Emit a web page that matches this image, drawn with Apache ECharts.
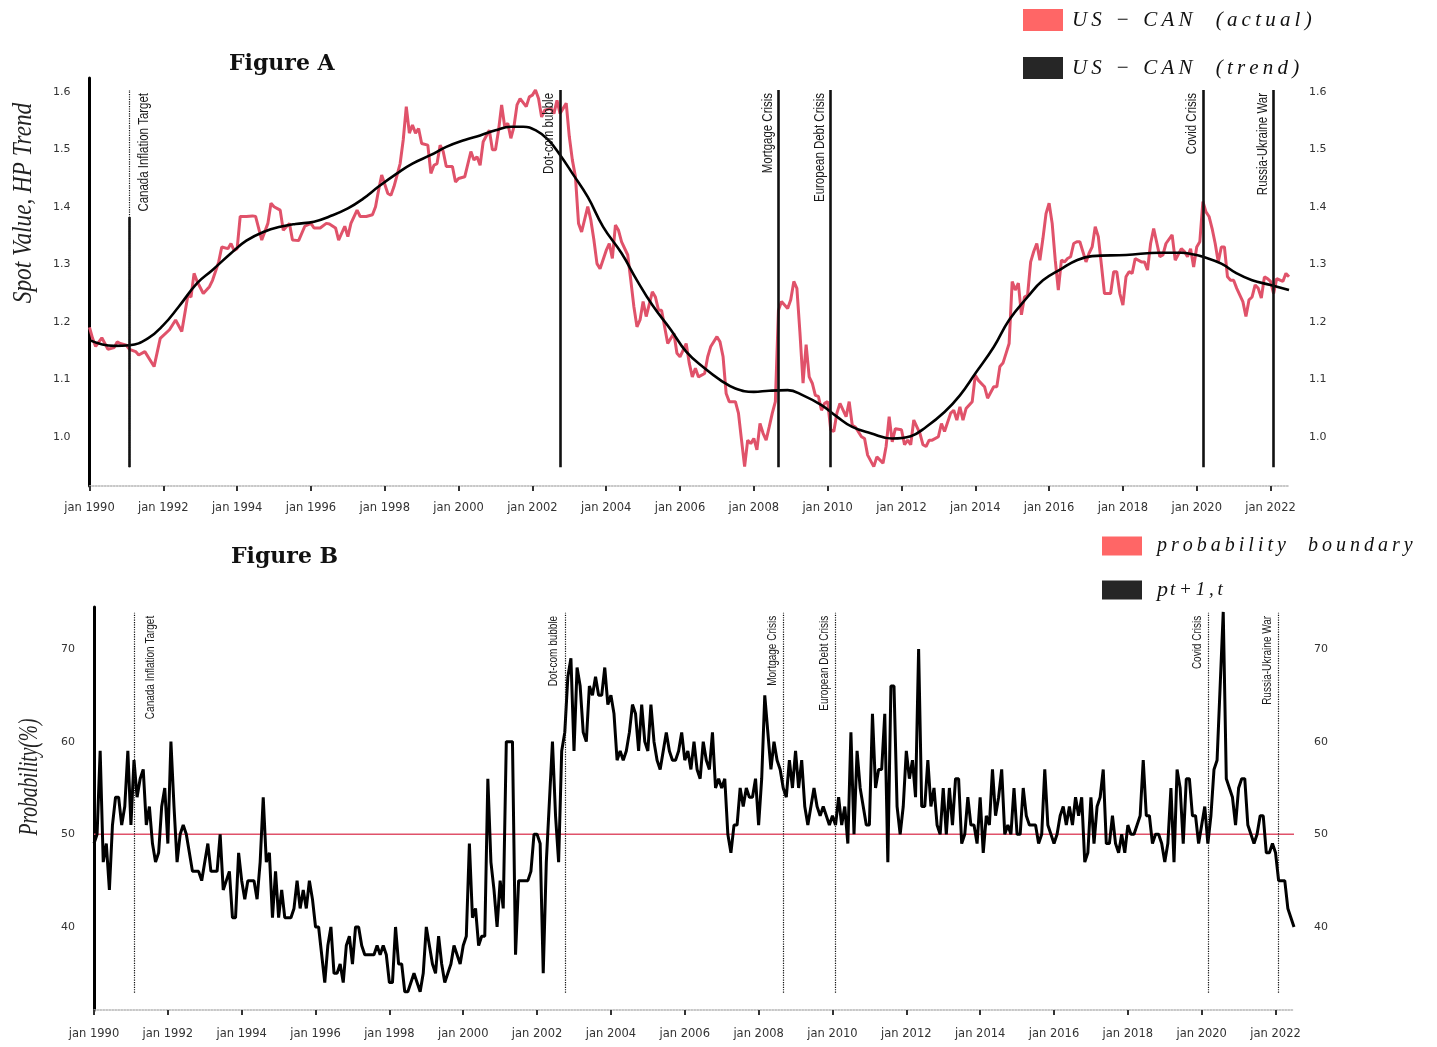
<!DOCTYPE html>
<html>
<head>
<meta charset="utf-8">
<title>US-CAN spot value and transition probability</title>
<script src="https://cdn.jsdelivr.net/npm/echarts@6/dist/echarts.min.js"></script>
<style>
  html, body { margin: 0; padding: 0; background: #ffffff; }
  #chart { width: 1437px; height: 1047px; }
</style>
</head>
<body>
<div id="chart"></div>
<script>
// All series are monthly; each point is [months since jan 1990, value].

// Figure A: US-CAN spot value
const spotActual = [
  [0,1.190],[1,1.171],[2,1.157],[4,1.172],[6,1.152],[8,1.155],[9,1.165],[10,1.162],[12,1.159],[13,1.152],
  [15,1.148],[16,1.142],[18,1.148],[21,1.122],[23,1.171],[26,1.186],[28,1.203],[30,1.183],[32,1.246],[33,1.243],
  [34,1.284],[35,1.270],[37,1.249],[39,1.261],[40,1.272],[42,1.304],[43,1.330],[45,1.327],[46,1.336],[47,1.324],
  [48,1.327],[49,1.383],[51,1.383],[53,1.384],[54,1.383],[56,1.342],[58,1.371],[59,1.406],[60,1.400],[62,1.394],
  [63,1.359],[65,1.371],[66,1.342],[68,1.341],[70,1.366],[72,1.371],[73,1.363],[75,1.363],[77,1.371],[78,1.370],
  [80,1.363],[81,1.342],[83,1.366],[84,1.348],[85,1.371],[87,1.394],[88,1.383],[90,1.383],[92,1.386],[93,1.400],
  [94,1.429],[95,1.455],[97,1.423],[98,1.420],[99,1.435],[101,1.475],[102,1.516],[103,1.574],[104,1.528],[105,1.542],
  [106,1.528],[107,1.536],[108,1.510],[110,1.507],[111,1.458],[112,1.472],[113,1.475],[114,1.507],[115,1.496],[116,1.470],
  [118,1.470],[119,1.443],[120,1.449],[122,1.452],[124,1.496],[125,1.481],[126,1.487],[127,1.472],[128,1.513],[130,1.533],
  [131,1.499],[132,1.499],[133,1.533],[134,1.577],[135,1.539],[136,1.545],[137,1.519],[138,1.539],[139,1.577],[140,1.588],
  [142,1.574],[143,1.591],[144,1.594],[145,1.603],[146,1.588],[147,1.556],[148,1.568],[150,1.571],[151,1.562],[152,1.585],
  [153,1.562],[154,1.571],[155,1.580],[156,1.522],[157,1.481],[158,1.452],[159,1.371],[160,1.356],[162,1.400],[163,1.377],
  [164,1.342],[165,1.301],[166,1.292],[168,1.324],[169,1.336],[170,1.310],[171,1.368],[172,1.359],[173,1.339],[175,1.316],
  [176,1.272],[177,1.226],[178,1.191],[179,1.203],[180,1.235],[181,1.209],[183,1.252],[184,1.243],[185,1.220],[186,1.220],
  [188,1.162],[189,1.171],[190,1.180],[191,1.145],[192,1.139],[194,1.162],[195,1.128],[196,1.104],[197,1.119],[198,1.104],
  [200,1.110],[201,1.139],[202,1.157],[204,1.174],[205,1.165],[206,1.139],[207,1.075],[208,1.061],[210,1.061],[211,1.041],
  [212,0.994],[213,0.948],[214,0.994],[215,0.988],[216,0.997],[217,0.977],[218,1.023],[219,1.006],[220,0.994],[221,1.017],
  [222,1.041],[223,1.061],[224,1.220],[225,1.235],[227,1.223],[228,1.238],[229,1.270],[230,1.258],[231,1.180],[232,1.093],
  [233,1.160],[234,1.104],[235,1.093],[236,1.072],[237,1.070],[238,1.046],[239,1.058],[240,1.061],[241,1.012],[242,1.009],
  [243,1.041],[244,1.058],[246,1.035],[247,1.061],[248,1.020],[249,1.017],[251,1.000],[252,0.997],[253,0.968],[255,0.948],
  [256,0.965],[258,0.954],[259,0.983],[260,1.035],[261,0.991],[262,1.014],[264,1.012],[265,0.986],[266,0.994],[267,0.986],
  [268,1.029],[270,1.006],[271,0.986],[272,0.983],[273,0.994],[274,0.994],[276,1.000],[277,1.023],[278,1.009],[280,1.041],
  [281,1.046],[282,1.029],[283,1.052],[284,1.029],[285,1.049],[287,1.061],[288,1.107],[289,1.098],[291,1.087],[292,1.067],
  [294,1.087],[295,1.087],[296,1.122],[297,1.128],[298,1.145],[299,1.162],[300,1.270],[301,1.255],[302,1.267],[303,1.212],
  [304,1.243],[305,1.246],[306,1.304],[307,1.322],[308,1.336],[309,1.307],[310,1.345],[311,1.388],[312,1.406],[313,1.371],
  [314,1.307],[315,1.255],[316,1.307],[317,1.304],[318,1.310],[319,1.313],[320,1.336],[321,1.339],[322,1.339],[324,1.304],
  [325,1.319],[326,1.330],[327,1.365],[328,1.348],[329,1.299],[330,1.249],[332,1.249],[333,1.287],[334,1.287],[335,1.249],
  [336,1.229],[337,1.278],[338,1.287],[339,1.284],[340,1.310],[342,1.304],[343,1.304],[344,1.290],[345,1.336],[346,1.362],
  [348,1.313],[349,1.316],[350,1.336],[352,1.351],[353,1.307],[355,1.327],[356,1.322],[357,1.313],[358,1.327],[359,1.295],
  [360,1.330],[361,1.339],[362,1.409],[363,1.391],[364,1.383],[365,1.362],[366,1.336],[367,1.304],[368,1.330],[369,1.330],
  [370,1.278],[371,1.272],[372,1.272],[373,1.258],[375,1.235],[376,1.209],[377,1.238],[378,1.243],[379,1.264],[380,1.258],
  [381,1.241],[382,1.278],[383,1.275],[384,1.270],[385,1.249],[386,1.275],[388,1.270],[389,1.284],[390,1.278]
];

// Hodrick-Prescott trend of the spot value
const spotTrend = [
  [0,1.168],[8,1.158],[13,1.159],[19,1.171],[24,1.194],[29,1.226],[35,1.267],[40,1.290],[46,1.319],[51,1.341],
  [57,1.357],[62,1.365],[67,1.370],[73,1.374],[78,1.383],[84,1.397],[89,1.414],[94,1.435],[100,1.458],[105,1.475],
  [111,1.490],[116,1.504],[122,1.516],[127,1.524],[132,1.533],[137,1.539],[141,1.539],[145,1.533],[149,1.517],[153,1.490],
  [157,1.458],[162,1.417],[167,1.365],[173,1.319],[178,1.272],[183,1.229],[189,1.186],[194,1.148],[200,1.119],[205,1.099],
  [210,1.084],[216,1.078],[221,1.080],[227,1.081],[232,1.072],[238,1.055],[243,1.035],[248,1.017],[254,1.006],[261,0.997],
  [267,1.001],[272,1.017],[278,1.043],[283,1.072],[288,1.110],[294,1.156],[299,1.203],[305,1.243],[310,1.272],[316,1.292],
  [321,1.307],[326,1.314],[337,1.316],[348,1.320],[355,1.320],[359,1.317],[362,1.313],[368,1.301],[373,1.284],[378,1.272],
  [384,1.264],[390,1.255]
];

// Figure B: probability p(t+1,t), in percent
const probNext = [
  [0,49],[1,50],[2,59],[3,47],[4,49],[5,44],[6,51],[7,54],[8,54],[9,51],[10,53],[11,59],[12,51],[13,58],[14,54],
  [15,56],[16,57],[17,51],[18,53],[19,49],[20,47],[21,48],[22,53],[23,55],[24,49],[25,60],[26,53],[27,47],[28,50],
  [29,51],[30,50],[31,48],[32,46],[34,46],[35,45],[36,47],[37,49],[38,46],[40,46],[41,50],[42,44],[43,45],[44,46],
  [45,41],[46,41],[47,48],[48,45],[49,43],[50,45],[51,45],[52,45],[53,43],[54,47],[55,54],[56,47],[57,48],[58,41],
  [59,46],[60,41],[61,44],[62,41],[64,41],[65,42],[66,45],[67,42],[68,44],[69,42],[70,45],[71,43],[72,40],[73,40],
  [74,37],[75,34],[76,38],[77,40],[78,35],[79,35],[80,36],[81,34],[82,38],[83,39],[84,36],[85,40],[86,40],[87,38],
  [88,37],[91,37],[92,38],[93,37],[94,38],[95,37],[96,34],[97,34],[98,40],[99,36],[100,36],[101,33],[102,33],[104,35],
  [106,33],[107,35],[108,40],[110,36],[111,35],[112,39],[113,36],[114,34],[115,35],[116,36],[117,38],[118,37],[119,36],
  [120,38],[121,39],[122,49],[123,41],[124,42],[125,38],[126,39],[127,39],[128,56],[129,47],[130,44],[131,40],[132,45],
  [133,42],[134,60],[136,60],[137,37],[138,45],[141,45],[142,46],[143,50],[144,50],[145,49],[146,35],[147,47],[149,60],
  [150,52],[151,47],[152,59],[153,61],[154,67],[155,69],[156,59],[157,68],[158,66],[159,61],[160,60],[161,66],[162,65],
  [163,67],[164,65],[165,65],[166,68],[167,64],[168,65],[169,63],[170,58],[171,59],[172,58],[173,59],[174,61],[175,64],
  [176,63],[177,59],[178,64],[179,60],[180,59],[181,64],[182,60],[183,58],[184,57],[185,59],[186,61],[187,59],[188,58],
  [189,58],[190,59],[191,61],[192,58],[193,59],[194,57],[195,60],[196,57],[197,56],[198,60],[199,58],[200,57],[201,61],
  [202,55],[203,56],[204,55],[205,56],[206,50],[207,48],[208,51],[209,51],[210,55],[211,53],[212,55],[213,54],[214,54],
  [215,56],[216,51],[217,56],[218,65],[219,61],[220,57],[221,60],[222,58],[223,57],[224,55],[225,54],[226,58],[227,55],
  [228,59],[229,55],[230,58],[231,53],[232,51],[233,53],[234,55],[235,53],[236,52],[237,53],[238,52],[239,51],[240,52],
  [241,51],[242,54],[243,51],[244,53],[245,49],[246,61],[247,50],[248,59],[249,55],[250,53],[251,51],[252,51],[253,63],
  [254,55],[255,57],[256,57],[257,63],[258,47],[259,66],[260,66],[261,53],[262,50],[263,53],[264,59],[265,56],[266,58],
  [267,54],[268,70],[269,53],[270,53],[271,58],[272,53],[273,55],[274,51],[275,50],[276,55],[277,50],[278,55],[279,51],
  [280,56],[281,56],[282,49],[283,50],[284,54],[285,51],[286,51],[287,49],[288,54],[289,48],[290,52],[291,51],[292,57],
  [293,52],[294,54],[295,57],[296,50],[297,51],[298,50],[299,55],[300,50],[301,50],[302,55],[303,52],[304,51],[305,51],
  [306,51],[307,49],[308,50],[309,57],[310,51],[311,50],[312,49],[313,50],[314,52],[315,53],[316,51],[317,53],[318,51],
  [319,54],[320,52],[321,54],[322,47],[323,48],[324,54],[325,49],[326,53],[327,54],[328,57],[329,49],[330,49],[331,52],
  [332,49],[333,48],[334,50],[335,48],[336,51],[337,50],[338,50],[339,51],[340,52],[341,58],[342,52],[343,52],[344,49],
  [345,50],[346,50],[347,49],[348,47],[349,49],[350,55],[351,47],[352,57],[353,55],[354,49],[355,56],[356,56],[357,52],
  [358,52],[359,49],[360,51],[361,53],[362,49],[363,52],[364,57],[365,58],[366,66],[367,74],[368,56],[369,55],[370,54],
  [371,51],[372,55],[373,56],[374,56],[375,51],[376,50],[377,49],[378,50],[379,52],[380,52],[381,48],[382,48],[383,49],
  [384,48],[385,45],[386,45],[387,45],[388,42],[389,41],[390,40]
];

const probBoundary = 50;

// Events marked on both panels: [label, months since jan 1990]
const events = [
  ['Canada Inflation Target', 13],
  ['Dot-com bubble', 153],
  ['Mortgage Crisis', 224],
  ['European Debt Crisis', 241],
  ['Covid Crisis', 362],
  ['Russia-Ukraine War', 385]
];

const spotTicks = [1.0, 1.1, 1.2, 1.3, 1.4, 1.5, 1.6];
const probTicks = [40, 50, 60, 70];

const startYear = 1990;
const lastMonth = 390;

const SERIES_ACTUAL = 'US − CAN  (actual)';
const SERIES_TREND = 'US − CAN  (trend)';
const SERIES_BOUND = 'probability  boundary';
const SERIES_PROB = 'p t+1,t';

const toYear = m => startYear + m / 12;
const asPoints = rows => rows.map(([m, v]) => [toYear(m), v]);
// math-style legend lettering: a thin space between glyphs
const spaced = s => s.split('').join('\u2009');

const RED = '#e0526a';
const LEGEND_RED = '#ff6666';
const LEGEND_BLACK = '#262626';
const TICK_FONT = '"DejaVu Sans", Verdana, sans-serif';
const EVENT_FONT = '"Liberation Sans", Arial, sans-serif';
const SERIF = '"Liberation Serif", "DejaVu Serif", serif';

// vertical extent of the event lines in each panel
const spotEventSpan = [0.947, 1.603];
const probEventSpan = [32.9, 73.9];

const chart = echarts.init(document.getElementById('chart'), null, { renderer: 'canvas' });

function xAxisFor(gridIndex, margin) {
  return {
    type: 'value', gridIndex,
    min: startYear, max: toYear(lastMonth), interval: 2,
    axisLine: { show: true, lineStyle: { color: '#b5b5b5', width: 1.5, type: 'dotted' } },
    axisTick: { show: true, length: 5, lineStyle: { color: '#333', width: 2 } },
    axisLabel: {
      margin, color: '#333', fontSize: 11.5, fontFamily: TICK_FONT,
      showMaxLabel: false,
      formatter: v => (Number.isInteger(v) ? 'jan ' + v : '')
    },
    splitLine: { show: false }
  };
}

function yAxisFor(gridIndex, min, max, ticks, decimals, side) {
  const left = side === 'left';
  return {
    type: 'value', gridIndex, position: side, min, max,
    axisLine: { show: left, onZero: false, lineStyle: { color: '#000', width: 3 } },
    axisTick: { show: false },
    splitLine: { show: false },
    axisLabel: {
      show: true, margin: left ? 19 : 20, color: '#333', fontSize: 11, fontFamily: TICK_FONT,
      customValues: ticks,
      formatter: v => v.toFixed(decimals)
    }
  };
}

function eventLines(span, heavy) {
  const [lo, hi] = span;
  const data = events.map(([name, m], i) => [
    { name, coord: [toYear(m), lo],
      lineStyle: heavy && i > 0 ? { width: 2.6, type: 'solid' } : { width: 1.2, type: 'dotted' } },
    { coord: [toYear(m), hi] }
  ]);
  if (heavy) {
    // the inflation-target line is drawn heavier below its label
    const m0 = events[0][1];
    data.push([
      { coord: [toYear(m0), lo], lineStyle: { width: 2.6, type: 'solid' } },
      { coord: [toYear(m0), 1.382] }
    ]);
  }
  return {
    silent: true, animation: false, symbol: ['none', 'none'],
    lineStyle: { color: '#111' },
    label: { show: false },
    data
  };
}

const option = {
  animation: false,
  backgroundColor: '#ffffff',
  grid: [
    { left: 89.5, right: 148, top: 78, height: 408 },
    { left: 94, right: 143, top: 607, height: 403 }
  ],
  xAxis: [xAxisFor(0, 16), xAxisFor(1, 18)],
  yAxis: [
    yAxisFor(0, 0.9143, 1.6238, spotTicks, 1, 'left'),
    yAxisFor(0, 0.9143, 1.6238, spotTicks, 1, 'right'),
    yAxisFor(1, 31.04, 74.53, probTicks, 0, 'left'),
    yAxisFor(1, 31.04, 74.53, probTicks, 0, 'right')
  ],
  legend: [
    {
      orient: 'vertical', left: 1018, top: 4, itemWidth: 40, itemHeight: 22, itemGap: 26,
      icon: 'rect',
      formatter: name => spaced(name),
      textStyle: { fontFamily: SERIF, fontStyle: 'italic', fontSize: 21, color: '#111', padding: [0, 0, 0, 4] },
      data: [
        { name: SERIES_ACTUAL, itemStyle: { color: LEGEND_RED } },
        { name: SERIES_TREND, itemStyle: { color: LEGEND_BLACK } }
      ]
    },
    {
      orient: 'vertical', left: 1097, top: 531, itemWidth: 40, itemHeight: 19, itemGap: 23,
      icon: 'rect',
      textStyle: {
        fontFamily: SERIF, fontStyle: 'italic', fontSize: 20, color: '#111', padding: [0, 0, 0, 10],
        rich: {
          p: { fontFamily: SERIF, fontStyle: 'italic', fontSize: 22, color: '#111' },
          s: { fontFamily: SERIF, fontStyle: 'italic', fontSize: 19, color: '#111', padding: [0, 0, 0, 2] }
        }
      },
      formatter: name => (name === SERIES_PROB ? '{p|p}{s|' + spaced('t+1,t') + '}' : spaced(name)),
      data: [
        { name: SERIES_BOUND, itemStyle: { color: LEGEND_RED } },
        { name: SERIES_PROB, itemStyle: { color: LEGEND_BLACK } }
      ]
    }
  ],
  graphic: {
    elements: [
      { id: 'titleA', type: 'text', left: 229, top: 53, style: { text: 'Figure A', font: 'bold 22px "DejaVu Serif", serif', fill: '#111' } },
      { id: 'titleB', type: 'text', left: 231, top: 546, style: { text: 'Figure B', font: 'bold 22px "DejaVu Serif", serif', fill: '#111' } },
      { id: 'nameA', type: 'text', x: 24, y: 203, rotation: Math.PI / 2, scaleX: 0.86,
        style: { text: 'Spot Value, HP Trend', font: 'italic 27px ' + SERIF, fill: '#222', align: 'center', verticalAlign: 'middle' } },
      { id: 'nameB', type: 'text', x: 30, y: 777, rotation: Math.PI / 2, scaleX: 0.72,
        style: { text: 'Probability(%)', font: 'italic 27px ' + SERIF, fill: '#222', align: 'center', verticalAlign: 'middle' } }
    ]
  },
  series: [
    {
      name: SERIES_ACTUAL, type: 'line', xAxisIndex: 0, yAxisIndex: 0,
      data: asPoints(spotActual), showSymbol: false, symbol: 'none',
      lineStyle: { color: RED, width: 3 }, itemStyle: { color: RED },
      markLine: eventLines(spotEventSpan, true), z: 2
    },
    {
      name: SERIES_TREND, type: 'line', xAxisIndex: 0, yAxisIndex: 0,
      data: asPoints(spotTrend), showSymbol: false, symbol: 'none', smooth: 0.45,
      lineStyle: { color: '#000', width: 2.6 }, itemStyle: { color: '#000' }, z: 3
    },
    {
      name: SERIES_BOUND, type: 'line', xAxisIndex: 1, yAxisIndex: 2,
      data: [[toYear(0), probBoundary], [toYear(lastMonth), probBoundary]],
      showSymbol: false, symbol: 'none',
      lineStyle: { color: RED, width: 1.6 }, itemStyle: { color: RED }, z: 2
    },
    {
      name: SERIES_PROB, type: 'line', xAxisIndex: 1, yAxisIndex: 2,
      data: asPoints(probNext), showSymbol: false, symbol: 'none',
      lineStyle: { color: '#000', width: 3 }, itemStyle: { color: '#000' },
      markLine: eventLines(probEventSpan, false), z: 3
    }
  ]
};

chart.setOption(option);

// Event captions: condensed upright text read bottom-to-top, ending at the top of each line.
// The first caption sits right of its line, the others left of theirs.
function eventCaptions(gridIndex, span, fontSize, gapLeft, gapRight, prefix) {
  return events.map(([name, m], i) => {
    const [px, py] = chart.convertToPixel({ gridIndex }, [toYear(m), span[1]]);
    const right = i === 0;
    return {
      id: prefix + i, type: 'text', silent: true,
      x: right ? px + gapRight : px - gapLeft, y: py + 3,
      rotation: Math.PI / 2, scaleX: 0.74,
      style: {
        text: name, font: fontSize + 'px ' + EVENT_FONT, fill: '#1a1a1a',
        align: 'right', verticalAlign: right ? 'top' : 'bottom'
      },
      z: 10
    };
  });
}

chart.setOption({
  graphic: {
    elements: [
      ...eventCaptions(0, spotEventSpan, 15.5, 3, 6, 'evA'),
      ...eventCaptions(1, probEventSpan, 13.5, 4, 9, 'evB')
    ]
  }
});
</script>
</body>
</html>
